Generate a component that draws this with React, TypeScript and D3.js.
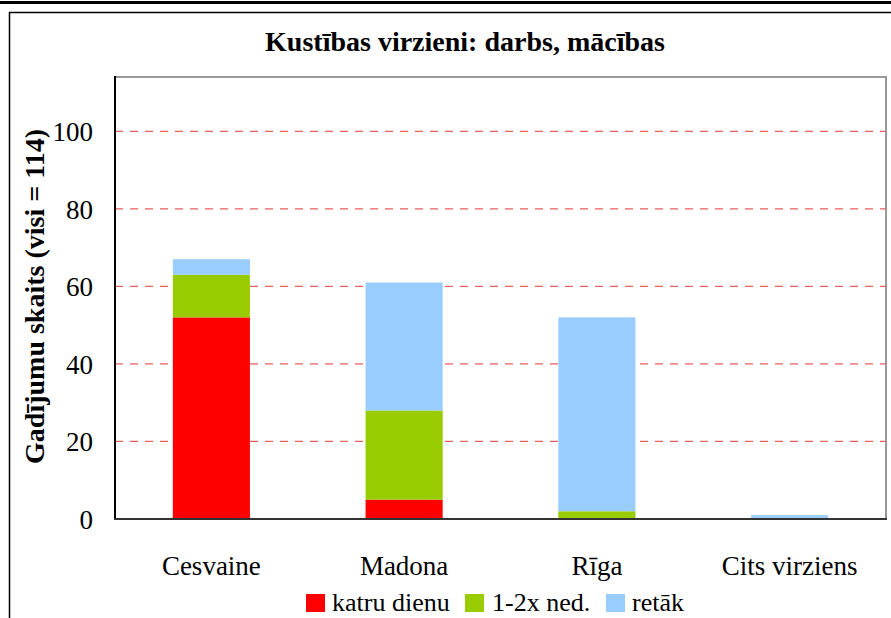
import React from "react";
import * as d3 from "d3";

const categories = ["Cesvaine", "Madona", "Rīga", "Cits virziens"];
const seriesNames = ["katru dienu", "1-2x ned.", "retāk"];
const seriesColors = ["#ff0000", "#99cc00", "#99ccff"];
const katruDienu = [52, 5, 0, 0];
const nedela = [11, 23, 2, 0];
const retak = [4, 33, 50, 1];
const yTicks = [0, 20, 40, 60, 80, 100];

const W = 891;
const H = 618;
const plot = { left: 115, top: 77, right: 886, bottom: 519 };

export default function App() {
  const x = d3
    .scaleBand<string>()
    .domain(categories)
    .range([plot.left, plot.right])
    .paddingInner(0.6)
    .paddingOuter(0.3);
  const y = d3.scaleLinear().domain([0, 114]).range([plot.bottom, plot.top]);

  const rows = categories.map((c, i) => ({
    cat: c,
    s0: katruDienu[i],
    s1: nedela[i],
    s2: retak[i],
  }));
  const stack = d3.stack<any>().keys(["s0", "s1", "s2"]);
  const stacked = stack(rows);

  const font = "Liberation Serif";
  const fs = 27;

  return (
    <svg width={W} height={H} style={{ position: "absolute", left: 0, top: 0, background: "#fff", fontFamily: font }}>
      <rect x={0} y={0} width={W} height={H} fill="#fff" />
      {/* top thick line */}
      <line x1={0} x2={W} y1={2.5} y2={2.5} stroke="#000" strokeWidth={3} />
      {/* outer frame */}
      <path d={`M9.5,${H} V12.5 H${W}`} fill="none" stroke="#000" strokeWidth={1.5} />
      {/* title */}
      <text x={465} y={51} textAnchor="middle" style={{ fontFamily: font }} fontWeight="bold" fontSize={28}>
        Kustības virzieni: darbs, mācības
      </text>
      {/* plot frame */}
      <rect x={plot.left} y={plot.top} width={plot.right - plot.left} height={plot.bottom - plot.top} fill="#fff" stroke="#999" strokeWidth={2} />
      {/* gridlines */}
      {yTicks.filter((t) => t > 0).map((t) => (
        <line key={t} x1={plot.left} x2={plot.right} y1={y(t)} y2={y(t)} stroke="#e86060" strokeWidth={1.2} strokeDasharray="8,7" />
      ))}
      {/* bars */}
      {stacked.map((layer, si) =>
        layer.map((d, ci) => {
          const h = y(d[0]) - y(d[1]);
          if (h <= 0) return null;
          return (
            <rect key={`${si}-${ci}`} x={x(categories[ci])} y={y(d[1])} width={x.bandwidth()} height={h} fill={seriesColors[si]} />
          );
        })
      )}
      {/* axes */}
      <line x1={plot.left} x2={plot.left} y1={plot.top - 1} y2={plot.bottom} stroke="#000" strokeWidth={2} />
      <line x1={plot.left - 1} x2={plot.right + 1} y1={plot.bottom} y2={plot.bottom} stroke="#333" strokeWidth={2} />
      {/* y tick labels */}
      {yTicks.map((t) => (
        <text key={t} x={93} y={y(t) + 10} textAnchor="end" style={{ fontFamily: font }} fontSize={fs}>
          {t}
        </text>
      ))}
      {/* y axis title */}
      <text transform={`translate(44,296.5) rotate(-90)`} textAnchor="middle" style={{ fontFamily: font }} fontWeight="bold" fontSize={28}>
        Gadījumu skaits (visi = 114)
      </text>
      {/* category labels */}
      {categories.map((c) => (
        <text key={c} x={(x(c) as number) + x.bandwidth() / 2} y={575} textAnchor="middle" style={{ fontFamily: font }} fontSize={fs}>
          {c}
        </text>
      ))}
      {/* legend */}
      {(() => {
        const items = [
          { sx: 306, tx: 332 },
          { sx: 465, tx: 492 },
          { sx: 606, tx: 632 },
        ];
        return seriesNames.map((n, i) => (
          <g key={n}>
            <rect x={items[i].sx} y={594} width={19} height={18} fill={seriesColors[i]} />
            <text x={items[i].tx} y={611} style={{ fontFamily: font }} fontSize={26}>
              {n}
            </text>
          </g>
        ));
      })()}
    </svg>
  );
}
